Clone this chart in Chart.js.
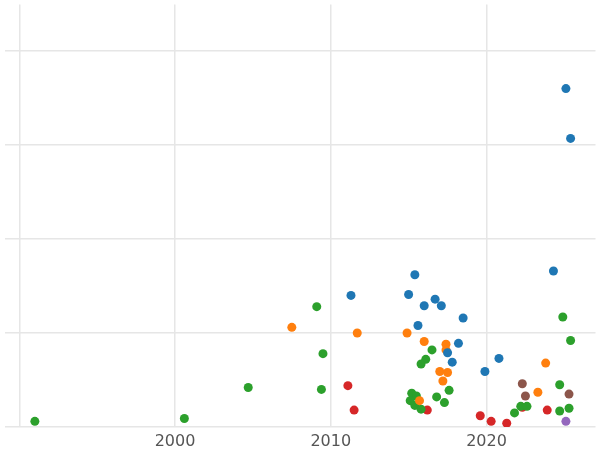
<!DOCTYPE html>
<html>
<head>
<meta charset="utf-8">
<script src="https://cdn.jsdelivr.net/npm/chart.js@4/dist/chart.umd.min.js"></script>
<style>
  html, body { margin: 0; padding: 0; background: #fff; }
  #wrap { width: 600px; height: 450px; }
</style>
</head>
<body>
<div id="wrap"><canvas id="c"></canvas></div>
<script>
// series: [year, value]
const blueYears   = [2025.1, 2025.4, 2024.3, 2015.4, 2011.3, 2015.0, 2016.7, 2016.0, 2017.1, 2018.5, 2015.6, 2018.2, 2017.5, 2017.8, 2020.8, 2019.9];
const blueValues  = [3.60, 3.07, 1.66, 1.62, 1.40, 1.41, 1.36, 1.29, 1.29, 1.16, 1.08, 0.89, 0.79, 0.69, 0.73, 0.59];
const orangeYears  = [2007.5, 2011.7, 2014.9, 2016.0, 2017.4, 2017.4, 2017.0, 2017.5, 2017.2, 2023.8, 2023.3, 2015.7];
const orangeValues = [1.06, 1.00, 1.00, 0.91, 0.88, 0.82, 0.59, 0.58, 0.49, 0.68, 0.37, 0.28];
const greenYears  = [2009.1, 2009.5, 2004.7, 2009.4, 2016.5, 2016.1, 2015.8, 2015.2, 2015.5, 2015.1, 2015.4, 2015.8, 2016.8, 2017.6, 2017.3, 2024.9, 2025.4, 2024.7, 2024.7, 2025.3, 2022.2, 2022.6, 2021.8, 2000.6, 1991.0];
const greenValues = [1.28, 0.78, 0.42, 0.40, 0.82, 0.72, 0.67, 0.36, 0.33, 0.28, 0.23, 0.19, 0.32, 0.39, 0.26, 1.17, 0.92, 0.45, 0.17, 0.20, 0.22, 0.22, 0.15, 0.09, 0.06];
const redYears    = [2011.1, 2011.5, 2016.2, 2019.6, 2020.3, 2021.3, 2022.3, 2023.9];
const redValues   = [0.44, 0.18, 0.18, 0.12, 0.06, 0.04, 0.21, 0.18];
const brownYears  = [2022.3, 2022.5, 2025.3];
const brownValues = [0.46, 0.33, 0.35];
const purpleYears  = [2025.1];
const purpleValues = [0.06];

const xTicks = [1990, 2000, 2010, 2020];
const yTicks = [0, 1, 2, 3, 4];

const pts = (xs, ys) => xs.map((x, i) => ({ x: x, y: ys[i] }));
const series = [
    [blueYears, blueValues, '#1f77b4'],
    [orangeYears, orangeValues, '#ff7f0e'],
    [greenYears, greenValues, '#2ca02c'],
    [redYears, redValues, '#d62728'],
    [brownYears, brownValues, '#8c564b'],
    [purpleYears, purpleValues, '#9467bd']
];

new Chart(document.getElementById('c').getContext('2d'), {
    type: 'scatter',
    data: {
        datasets: series.map(s => ({
            data: pts(s[0], s[1]),
            backgroundColor: s[2],
            borderWidth: 0,
            pointRadius: 4.5
        }))
    },
    options: {
        responsive: true,
        maintainAspectRatio: false,
        animation: false,
        layout: { padding: 0 },
        plugins: { legend: { display: false }, tooltip: { enabled: false } },
        scales: {
            x: {
                type: 'linear',
                min: 1989.05,
                max: 2027,
                border: { display: false },
                grid: { color: '#e6e6e6', lineWidth: 1.5, drawTicks: false },
                afterBuildTicks: s => { s.ticks = xTicks.map(v => ({ value: v })); },
                afterFit: s => { s.height = 23; },
                ticks: {
                    padding: 5,
                    color: '#555',
                    font: { family: 'DejaVu Sans', size: 16 },
                    callback: v => (v === 1990 ? '' : v)
                }
            },
            y: {
                min: 0,
                max: 4.495,
                border: { display: false },
                grid: { color: '#e6e6e6', lineWidth: 1.5, drawTicks: false },
                afterBuildTicks: s => { s.ticks = yTicks.map(v => ({ value: v })); },
                afterFit: s => { s.width = 0; },
                ticks: { display: false }
            }
        }
    }
});
</script>
</body>
</html>
